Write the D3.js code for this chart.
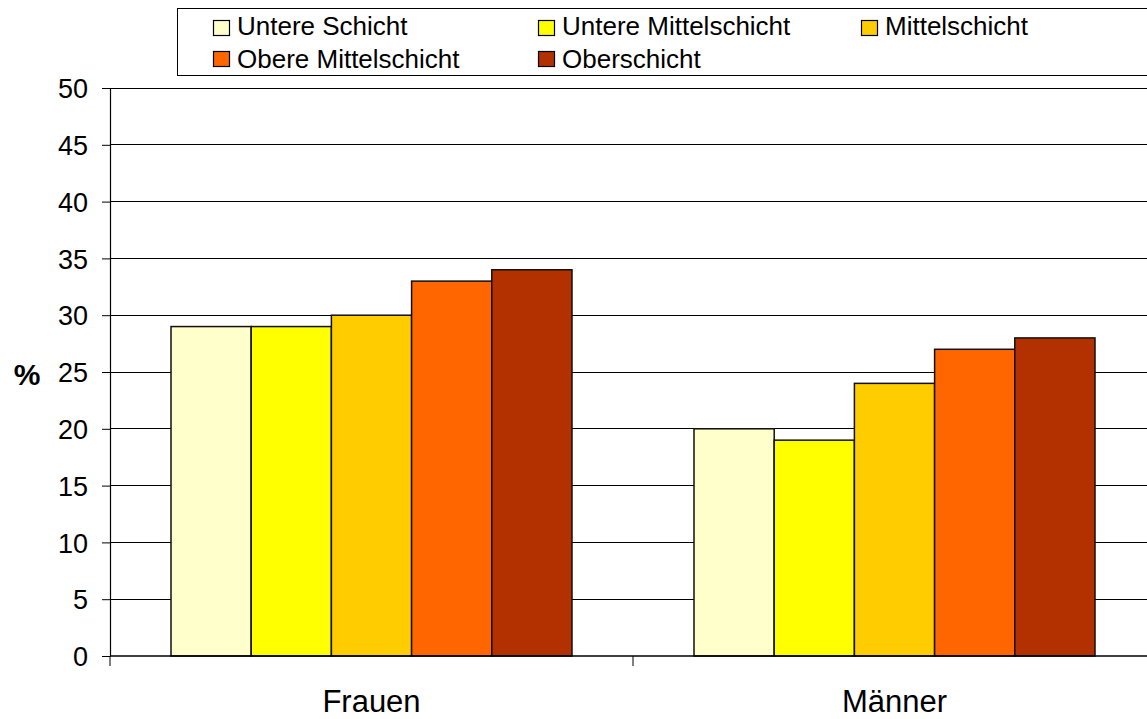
<!DOCTYPE html>
<html><head><meta charset="utf-8">
<script src="https://cdn.jsdelivr.net/npm/d3@7"></script>
<style>body{margin:0;background:#fff}svg{display:block;font-family:"Liberation Sans",Arial,sans-serif}</style>
</head><body>
<script>
const categories = ["Frauen", "Männer"];
const seriesNames = ["Untere Schicht", "Untere Mittelschicht", "Mittelschicht", "Obere Mittelschicht", "Oberschicht"];
const seriesColors = ["#FFFFCC", "#FFFF00", "#FFCC00", "#FF6600", "#B33000"];
const frauenValues = [29, 29, 30, 33, 34];
const maennerValues = [20, 19, 24, 27, 28];
const yTicks = [0, 5, 10, 15, 20, 25, 30, 35, 40, 45, 50];

const values = [frauenValues, maennerValues];
const W = 1147, H = 719;
const svg = d3.select("body").append("svg").attr("width", W).attr("height", H);

const x0 = d3.scaleBand().domain(categories).range([110, 1156]).paddingInner(0).paddingOuter(0);
const y = d3.scaleLinear().domain([0, 50]).range([656, 88]);
const groupW = 401;
const x1 = d3.scaleBand().domain(seriesNames).range([0, groupW]);

// gridlines
svg.append("g").selectAll("line").data(yTicks.filter(d => d > 0)).join("line")
  .attr("x1", 110).attr("x2", W).attr("y1", d => y(d)).attr("y2", d => y(d))
  .attr("stroke", "#000").attr("stroke-width", 1).attr("shape-rendering", "crispEdges");

// bars
const g = svg.append("g").selectAll("g").data(categories).join("g")
  .attr("transform", c => `translate(${x0(c) + (x0.bandwidth() - groupW) / 2},0)`);
g.selectAll("rect").data((c, i) => values[i].map((v, j) => ({ v, s: seriesNames[j], j })))
  .join("rect")
  .attr("x", d => x1(d.s)).attr("width", x1.bandwidth())
  .attr("y", d => y(d.v)).attr("height", d => y(0) - y(d.v))
  .attr("fill", d => seriesColors[d.j]).attr("stroke", "#111").attr("stroke-width", 1.5);

// y axis
const yAxis = svg.append("g").attr("transform", "translate(110,0)")
  .call(d3.axisLeft(y).tickValues(yTicks).tickSize(8).tickPadding(14).tickSizeOuter(0));
yAxis.select(".domain").attr("stroke", "#000").attr("stroke-width", 1.2);
yAxis.selectAll(".tick line").attr("stroke", "#000");
yAxis.selectAll("text").attr("font-size", 27).attr("fill", "#000").attr("dy", "0.36em")
  .attr("font-family", "Liberation Sans, Arial, sans-serif");

// x axis
const xAxis = svg.append("g").attr("transform", "translate(0,656)");
xAxis.append("line").attr("x1", 110).attr("x2", W).attr("stroke", "#000").attr("stroke-width", 1.5);
xAxis.selectAll(".xt").data(categories).join("line").attr("class", "xt")
  .attr("x1", c => x0(c)).attr("x2", c => x0(c)).attr("y1", 0).attr("y2", 10)
  .attr("stroke", "#000").attr("stroke-width", 1);
xAxis.selectAll("text").data(categories).join("text")
  .attr("x", c => x0(c) + x0.bandwidth() / 2)
  .attr("y", 56).attr("text-anchor", "middle").attr("font-size", 31).attr("fill", "#000")
  .text(c => c);

// y label
svg.append("text").attr("x", 27).attr("y", 385).attr("text-anchor", "middle")
  .attr("font-size", 30).attr("font-weight", "bold").text("%");

// legend
const leg = svg.append("g");
leg.append("rect").attr("x", 177.5).attr("y", 8.5).attr("width", 1000).attr("height", 67)
  .attr("fill", "#fff").attr("stroke", "#000").attr("stroke-width", 1);
// [swatch x, swatch top, text baseline]
const legPos = [[213, 20, 35], [538, 20, 35], [861, 20, 35], [213, 51, 68], [538, 51, 68]];
const li = leg.selectAll("g").data(seriesNames).join("g")
  .attr("transform", (d, i) => `translate(${legPos[i][0]},0)`);
li.append("rect").attr("x", 0.5).attr("y", (d, i) => legPos[i][1] + 0.5).attr("width", 16).attr("height", 15)
  .attr("fill", (d, i) => seriesColors[i]).attr("stroke", "#000").attr("stroke-width", 1.2);
li.append("text").attr("x", 24).attr("y", (d, i) => legPos[i][2]).attr("font-size", 26).attr("fill", "#000").text(d => d);
</script>
</body></html>
